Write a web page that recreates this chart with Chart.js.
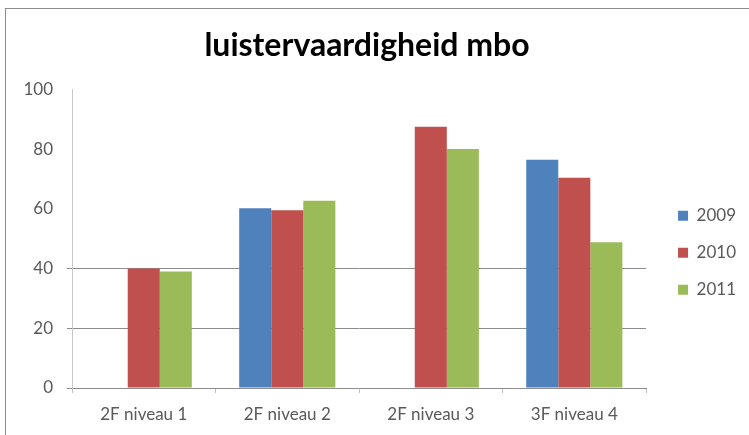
<!DOCTYPE html>
<html>
<head>
<meta charset="utf-8">
<script src="https://cdn.jsdelivr.net/npm/chart.js@4"></script>
<style>
  html, body { margin: 0; padding: 0; background: #fff; overflow: hidden; }
  #wrap { position: relative; width: 749px; height: 435px; }
  #chart { position: absolute; left: 0; top: 0; }
  /* kader rond de grafiek (loopt buiten beeld door) */
  #frame { position: absolute; left: 5px; top: 8px; width: 780px; height: 460px; border: 1px solid #8c8c8c; pointer-events: none; }
</style>
</head>
<body>
<div id="wrap">
  <canvas id="chart" width="749" height="435"></canvas>
  <div id="frame"></div>
</div>
<script>
// gegevens
const categories = ['2F niveau 1', '2F niveau 2', '2F niveau 3', '3F niveau 4'];
const years = ['2009', '2010', '2011'];
const scores2009 = [null, 60.2, null, 76.4];
const scores2010 = [40, 59.5, 87.5, 70.4];
const scores2011 = [39, 62.7, 80, 48.8];
const yTicks = [0, 20, 40, 60, 80, 100];

const colors = ['#4f81bd', '#c0504d', '#9bbb59'];
const series = [scores2009, scores2010, scores2011];

// legenda iets verschuiven zoals in Excel
const nudgeLegend = {
    id: 'nudgeLegend',
    afterLayout(chart) {
        const lg = chart.legend;
        lg.left += 12; lg.right += 12;
        lg.top += 14; lg.bottom += 14;
    }
};

const shownGrid = v => v === 20 || v === 40;

new Chart(document.getElementById('chart'), {
    type: 'bar',
    data: {
        labels: categories,
        datasets: years.map((y, i) => ({
            label: y,
            data: series[i],
            backgroundColor: colors[i],
            borderWidth: 0,
            categoryPercentage: 0.67,
            barPercentage: 1
        }))
    },
    options: {
        responsive: false,
        animation: false,
        devicePixelRatio: 1,
        layout: { padding: { left: 0, right: 15, top: 0, bottom: 0 } },
        plugins: {
            title: {
                display: true,
                text: 'luistervaardigheid mbo',
                color: '#000',
                font: { family: 'Lato', size: 32, weight: 'bold' },
                padding: { top: 26, bottom: 25 }
            },
            legend: {
                position: 'right',
                fullSize: false,
                labels: {
                    boxWidth: 10,
                    boxHeight: 10,
                    padding: 20,
                    color: '#595959',
                    font: { family: 'Lato', size: 17 }
                }
            },
            tooltip: { enabled: false }
        },
        scales: {
            x: {
                grid: { drawOnChartArea: false, drawTicks: true, tickLength: 5, color: '#bfbfbf', offset: true },
                border: { color: '#8c8c8c', width: 1 },
                ticks: { color: '#595959', padding: 11, font: { family: 'Lato', size: 17 } },
                afterFit(scale) { scale.height = 47; }
            },
            y: {
                min: 0,
                max: 100,
                afterBuildTicks(scale) { scale.ticks = yTicks.map(v => ({ value: v })); },
                grid: {
                    color: ctx => shownGrid(ctx.tick.value) ? '#8c8c8c' : 'rgba(0,0,0,0)',
                    tickColor: ctx => (shownGrid(ctx.tick.value) || ctx.tick.value === 0) ? '#8c8c8c' : 'rgba(0,0,0,0)',
                    tickLength: 5
                },
                border: { color: '#c8c8c8', width: 1 },
                ticks: { color: '#595959', padding: 14, font: { family: 'Lato', size: 17 } },
                afterFit(scale) { scale.width = 72; }
            }
        }
    },
    plugins: [nudgeLegend]
});
</script>
</body>
</html>
